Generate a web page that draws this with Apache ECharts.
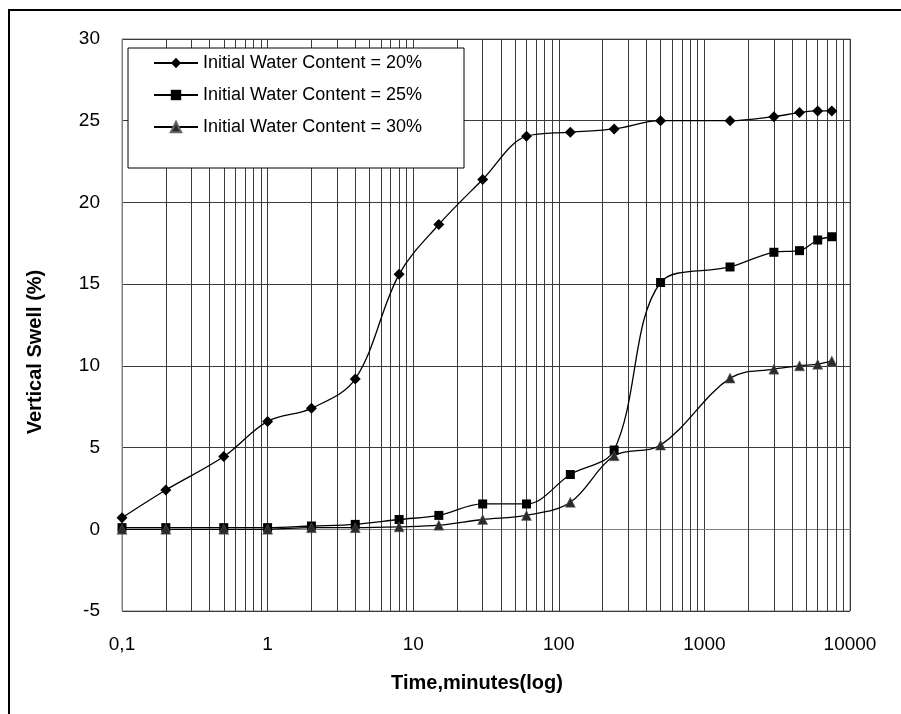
<!DOCTYPE html>
<html>
<head>
<meta charset="utf-8">
<script src="https://cdn.jsdelivr.net/npm/echarts@6/dist/echarts.min.js"></script>
<style>
  html, body { margin: 0; padding: 0; background: #fff; }
  #chart { width: 901px; height: 714px; }
</style>
</head>
<body>
<div id="chart"></div>
<script>
// ---- data ----
const timeMinutes = [0.1, 0.2, 0.5, 1, 2, 4, 8, 15, 30, 60, 120, 240, 500, 1500, 3000, 4500, 6000, 7500];
const swell20 = [0.7, 2.4, 4.45, 6.6, 7.4, 9.2, 15.6, 18.65, 21.4, 24.05, 24.3, 24.5, 25.0, 25.0, 25.25, 25.5, 25.6, 25.6];
const swell25 = [0.1, 0.1, 0.1, 0.1, 0.2, 0.3, 0.6, 0.85, 1.55, 1.55, 3.35, 4.85, 15.1, 16.05, 16.95, 17.05, 17.7, 17.9];
const swell30 = [0.0, 0.0, 0.0, 0.0, 0.1, 0.1, 0.15, 0.25, 0.6, 0.85, 1.65, 4.5, 5.15, 9.25, 9.8, 10.0, 10.1, 10.3];
const seriesNames = ['Initial Water Content = 20%', 'Initial Water Content = 25%', 'Initial Water Content = 30%'];
const yTicks = { min: -5, max: 30, interval: 5 };
const xRange = { min: 0.1, max: 10000 };
const minorGridValues = [];
[0.1, 1, 10, 100, 1000].forEach(function (d) {
  for (let k = 2; k <= 9; k++) minorGridValues.push(+(d * k).toPrecision(6));
});

const pairs = arr => timeMinutes.map((t, i) => [t, arr[i]]);
const font = '"Liberation Sans", Arial, sans-serif';
const gridColor = '#3a3a3a';

const chart = echarts.init(document.getElementById('chart'), null, { renderer: 'canvas' });
chart.setOption({
  animation: false,
  backgroundColor: '#fff',
  textStyle: { fontFamily: font, color: '#000' },
  grid: { left: 122, right: 51, top: 39, bottom: 103, show: true, borderColor: '#808080', borderWidth: 1, backgroundColor: 'transparent' },
  xAxis: {
    type: 'log', logBase: 10, min: xRange.min, max: xRange.max,
    axisLine: { show: true, lineStyle: { color: '#808080', width: 1 } },
    axisTick: { show: false },
    minorTick: { show: false },
    splitLine: { show: true, lineStyle: { color: gridColor, width: 1 } },
    axisLabel: {
      fontSize: 19, color: '#000', fontFamily: font, margin: 24,
      formatter: v => String(v).replace('.', ',')
    }
  },
  yAxis: {
    type: 'value', min: yTicks.min, max: yTicks.max, interval: yTicks.interval,
    axisLine: { show: true, lineStyle: { color: '#808080', width: 1 } },
    axisTick: { show: false },
    splitLine: { show: true, lineStyle: { color: gridColor, width: 1 } },
    axisLabel: { fontSize: 19, color: '#000', fontFamily: font, margin: 22 }
  },
  legend: {
    orient: 'vertical', left: 153, top: 54, padding: 0,
    itemWidth: 44, itemHeight: 13, itemGap: 14,
    textStyle: { fontSize: 18, lineHeight: 18, color: '#000', fontFamily: font },
    z: 60
  },
  graphic: [
    { type: 'rect', z: 50, shape: { x: 128, y: 48, width: 336, height: 120 }, style: { fill: '#fff', stroke: '#000', lineWidth: 1 } },
    { type: 'rect', z: 100, silent: true, shape: { x: 9, y: 10, width: 910, height: 720 }, style: { fill: 'none', stroke: '#000', lineWidth: 2 } },
    { type: 'text', z: 100, x: 35, y: 352, rotation: Math.PI / 2,
      style: { text: 'Vertical Swell (%)', fontSize: 20, fontWeight: 'bold', fontFamily: font, fill: '#000', align: 'center', verticalAlign: 'middle' } },
    { type: 'text', z: 100, x: 477, y: 683,
      style: { text: 'Time,minutes(log)', fontSize: 20, fontWeight: 'bold', fontFamily: font, fill: '#000', align: 'center', verticalAlign: 'middle' } }
  ],
  series: [
    {
      name: seriesNames[0], type: 'line', data: pairs(swell20), smooth: 0.35,
      symbol: 'diamond', symbolSize: 11, itemStyle: { color: '#000' }, lineStyle: { color: '#000', width: 1.3 },
      markLine: {
        silent: true, symbol: 'none', label: { show: false }, animation: false,
        lineStyle: { color: gridColor, width: 1, type: 'solid' },
        emphasis: { disabled: true },
        data: minorGridValues.map(v => ({ xAxis: v }))
      },
      z: 5
    },
    {
      name: seriesNames[1], type: 'line', data: pairs(swell25), smooth: 0.35,
      symbol: 'rect', symbolSize: 9, itemStyle: { color: '#000' }, lineStyle: { color: '#000', width: 1.3 }, z: 5
    },
    {
      name: seriesNames[2], type: 'line', data: pairs(swell30), smooth: 0.35,
      symbol: 'triangle', symbolSize: 10, itemStyle: { color: '#2a2a2a', borderColor: '#666', borderWidth: 0.5 }, lineStyle: { color: '#000', width: 1.3 }, z: 5
    }
  ]
});
</script>
</body>
</html>
